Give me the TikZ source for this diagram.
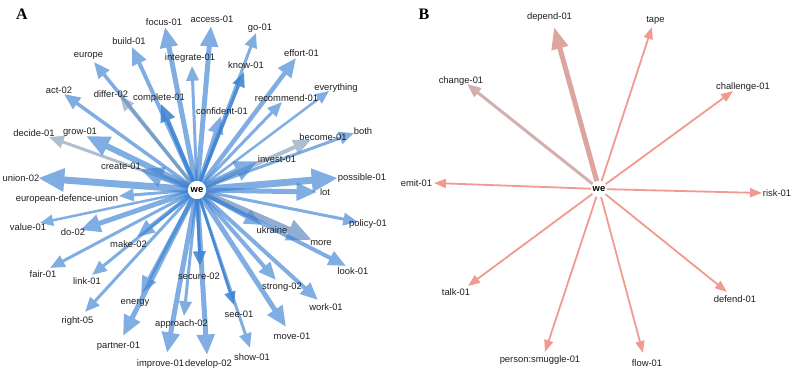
\documentclass[tikz,border=0pt]{standalone}
\usepackage{fontspec}
\setmainfont{Liberation Sans}
\newfontfamily\panelfont{Liberation Serif}
\usetikzlibrary{arrows.meta}
\definecolor{eblue}{RGB}{60,130,210}
\definecolor{egrey}{RGB}{120,148,178}
\definecolor{egb}{RGB}{100,138,192}
\definecolor{esal}{RGB}{238,136,124}
\definecolor{edep}{RGB}{210,135,128}
\definecolor{echg}{RGB}{196,150,148}
\begin{document}
\begin{tikzpicture}[x=1pt,y=-1pt,
  lbl/.style={font=\fontsize{9.4}{10}\selectfont, text=black!88, inner sep=0pt},
  panel/.style={font=\panelfont\bfseries\fontsize{16}{16}\selectfont, inner sep=0pt},
  wenode/.style={circle, fill=white, minimum size=18pt, inner sep=0pt, font=\bfseries\fontsize{9.4}{10}\selectfont},
  edge/.style={-{Triangle[length=6pt 2.9,width=5pt 2.4]}},
  eb/.style={edge, color=eblue},
  eg/.style={edge, color=egrey},
  egb/.style={edge, color=egb},
  es/.style={-{Triangle[length=12pt,width=9pt]}, color=esal},
  esd/.style={-{Triangle[length=22pt,width=16pt]}, color=edep},
  esc/.style={-{Triangle[length=14pt,width=11pt]}, color=echg}]
\useasboundingbox (0,0) rectangle (793,371);

\node[panel] (pA) at (22,14) {A};
\node[panel] (pB) at (424,14) {B};

% ---------- panel A ----------
\node[wenode] (weA) at (197,190) {we};
\def\listA{
focus-01/164/22/165/27/5/eb/0.65,
access-01/212/19/211/26/5/eb/0.65,
build-01/129/41/132/47/4/eb/0.65,
go-01/260/28/256/33/3/eb/0.65,
integrate-01/190/58/192/66/3/eb/0.65,
europe/88.5/56/94/62/3.5/eb/0.65,
know-01/246/65/244/72/3/eb/0.88,
effort-01/301.5/53/296/58/4.5/eb/0.65,
act-02/59/90/64/94/3.5/eb/0.65,
differ-02/111/94/120/96/3/eg/0.6,
complete-01/159/98/161/104/4/eb/0.88,
recommend-01/286.5/98/282/102/3/eb/0.65,
everything/336/88/329/91/2.5/eb/0.65,
confident-01/222/111/221/116/4/eb/0.65,
decide-01/34/133/49/137/3/eg/0.6,
grow-01/80/132/86/136/6/eb/0.65,
both/363/131/354/133/3/eb/0.65,
become-01/323/137/311/140/4/eg/0.6,
invest-01/277/159/258/161/6/eb/0.65,
create-01/121/166/140/169/6/eb/0.65,
union-02/21/178/38/178/7/eb/0.65,
possible-01/362/178/338/178/7/eb/0.65,
lot/325/192/317/192/5/eb/0.65,
european-defence-union/67/199/119/196/3/eb/0.65,
policy-01/368/224/358/222/3/eb/0.65,
value-01/28/227/40/223/2.5/eb/0.65,
ukraine/272/230/262/225/4/eb/0.65,
do-02/73/232/80/230/5/eb/0.65,
more/321/243/312/240/6.5/egb/0.7,
make-02/128.5/244/137/237/4/eb/0.65,
look-01/353/271/346/266/4/eb/0.65,
fair-01/43/274/50/268/3/eb/0.65,
link-01/87/281/92/275/3/eb/0.65,
secure-02/199/276/200/266/3/eb/0.88,
strong-02/282/287/276/280/4/eb/0.65,
work-01/326/307/318/300/4/eb/0.65,
energy/135/303/141/294/4/eb/0.65,
see-01/239/314/234/305/2.5/eb/0.88,
right-05/77.5/321/85/312/3/eb/0.65,
approach-02/181.5/324/184/316/3/eb/0.65,
move-01/292/336/286/327/5/eb/0.65,
partner-01/118.5/346/123/336/5/eb/0.65,
show-01/252/357/250/348/3/eb/0.65,
improve-01/160.5/364/167/353/5/eb/0.65,
develop-02/208.5/364/207/355/5/eb/0.65}
\foreach \t/\lx/\ly/\tx/\ty/\w/\s/\o [count=\i] in \listA {
  \coordinate (ta\i) at (\tx,\ty);
  \begin{scope}[transparency group, opacity=\o]
    \draw[\s, line width=\w pt] (weA) -- (ta\i);
  \end{scope}
}
\foreach \t/\lx/\ly/\tx/\ty/\w/\s/\o [count=\i] in \listA {
  \node[lbl] (la\i) at (\lx,\ly) {\t};
}

% ---------- panel B ----------
\node[wenode, minimum size=16pt] (weB) at (599,189) {we};
\def\listB{
emit-01/416.5/183/434/183/1.8/es/0.85,
depend-01/549.5/17/554/27/5/esd/0.75,
change-01/461/81/467/84/3/esc/0.75,
tape/655.5/20/652/27/1.8/es/0.85,
challenge-01/743/87/733/91/1.8/es/0.85,
risk-01/777/193/762/193/1.8/es/0.85,
defend-01/735/299/727/292/1.8/es/0.85,
flow-01/647/363/643/353/1.8/es/0.85,
talk-01/456/292/468/286/1.8/es/0.85,
person:smuggle-01/540/360/545/352/1.8/es/0.85}
\foreach \t/\lx/\ly/\tx/\ty/\w/\s/\o [count=\i] in \listB {
  \coordinate (tb\i) at (\tx,\ty);
  \begin{scope}[transparency group, opacity=\o]
    \draw[\s, line width=\w pt] (weB) -- (tb\i);
  \end{scope}
}
\foreach \t/\lx/\ly/\tx/\ty/\w/\s/\o [count=\i] in \listB {
  \node[lbl] (lb\i) at (\lx,\ly) {\t};
}
\end{tikzpicture}
\end{document}
